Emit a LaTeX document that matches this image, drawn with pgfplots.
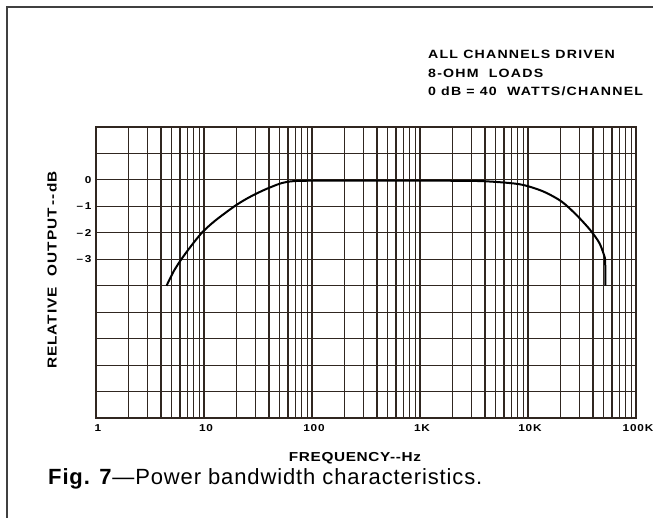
\documentclass[border=0pt]{standalone}
\usepackage{pgfplots}
\pgfplotsset{compat=1.18}
\usepackage{fontspec}
\setmainfont{Liberation Sans}
\newfontfamily\lettering[FakeStretch=1.18]{Liberation Sans}
\definecolor{ink}{RGB}{48,38,32}
\begin{document}
\begin{tikzpicture}[x=1pt,y=1pt]
\useasboundingbox (0,0) rectangle (653,518);
% page frame, left and top edges only
\draw[line width=1.6pt, black!75] (7,0) -- (7,511) -- (653,511);
\begin{axis}[
    at={(96pt,100pt)}, anchor=south west,
    scale only axis, width=540pt, height=291pt,
    xmode=log, xmin=1, xmax=100000,
    ymin=-9, ymax=2,
    xtick={1,10,100,1000,10000,100000},
    xticklabels={1,10,100,1K,10K,100K},
    ytick={-9,-8,...,2},
    yticklabels={,,,,,,\textendash\,3,\textendash\,2,\textendash\,1,0,,},
    grid=both,
    major grid style={line width=1.1pt, ink},
    minor grid style={line width=1.1pt, ink},
    axis line style={line width=1.4pt, ink},
    major tick length=0pt, minor tick length=0pt,
    tick label style={font=\lettering\bfseries\fontsize{10}{12}\selectfont\addfontfeature{LetterSpace=8}},
    xticklabel style={xshift=2pt, yshift=-3pt},
    yticklabel style={xshift=-1pt},
]
\addplot[line width=2pt, black, smooth, tension=0.5] coordinates {
    (4.5,-4) (5.25,-3.45) (6.17,-3) (7.59,-2.5) (9.55,-2) (12.6,-1.55)
    (19.1,-1) (25.1,-0.7) (33.1,-0.45) (41.7,-0.27) (52.5,-0.12)
    (66.1,-0.05) (100,-0.03) (300,-0.03) (1000,-0.03) (3300,-0.04)
    (6000,-0.1) (9000,-0.19) (13900,-0.44) (20500,-0.82) (28000,-1.32)
    (37600,-1.89) (46000,-2.4) (51600,-2.95)
};
\addplot[line width=2pt, black] coordinates {(51600,-2.95) (52000,-3.3) (52000,-4)};
\end{axis}
\node[font=\lettering\bfseries\fontsize{13}{15}\selectfont\addfontfeature{LetterSpace=5}] at (355,60) {FREQUENCY-{}-Hz};
\node[rotate=90, font=\lettering\bfseries\fontsize{13}{15}\selectfont\addfontfeature{LetterSpace=8}] at (52,248) {RELATIVE\ \ OUTPUT\,-{}-\,dB};
\node[anchor=west, align=left, inner sep=0pt, font=\lettering\bfseries\fontsize{12}{18.5}\selectfont\addfontfeature{LetterSpace=10}] at (428,445) {ALL CHANNELS DRIVEN\\8-OHM\ \ LOADS\\0 dB = 40\ \ WATTS/CHANNEL};
\node[anchor=base west, inner sep=0pt, font=\fontsize{22}{24}\selectfont\addfontfeature{LetterSpace=4}] at (48,33) {\textbf{Fig. 7}\textemdash Power bandwidth characteristics.};
\end{tikzpicture}
\end{document}
